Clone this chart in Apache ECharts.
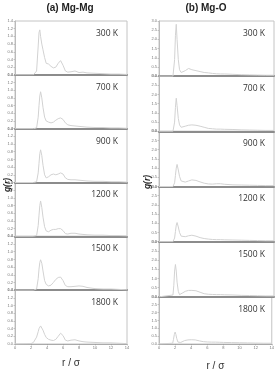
<!DOCTYPE html>
<html><head><meta charset="utf-8">
<script src="https://cdn.jsdelivr.net/npm/echarts@6/dist/echarts.min.js"></script>
<style>html,body{margin:0;padding:0;background:#fff}#c{width:277px;height:372px}</style>
</head><body><div id="c"></div>
<script>
// ---------- data ----------
const temps = ['300 K', '700 K', '900 K', '1200 K', '1500 K', '1800 K'];
const xTicks = [0, 2, 4, 6, 8, 10, 12, 14];

// (a) Mg-Mg
const rMgMg   = [0, 2.0, 2.3, 2.5, 2.7, 2.9, 3.0, 3.1, 3.2, 3.35, 3.5, 3.7, 3.9, 4.2, 4.5, 4.8, 5.1, 5.4, 5.7, 6.0, 6.3, 6.6, 7.0, 7.5, 8.0, 8.5, 9.0, 10, 11, 12, 13, 14];
const mgmg300  = [0, 0, 0, 0, 0.1, 0.75, 1.1, 1.17, 1.0, 0.8, 0.65, 0.45, 0.3, 0.28, 0.22, 0.18, 0.2, 0.3, 0.37, 0.25, 0.1, 0.07, 0.08, 0.1, 0.06, 0.07, 0.05, 0.04, 0.03, 0.02, 0.02, 0.01];
const mgmg700  = [0, 0, 0, 0, 0.02, 0.3, 0.6, 0.85, 0.96, 0.8, 0.55, 0.3, 0.2, 0.17, 0.15, 0.17, 0.22, 0.26, 0.28, 0.24, 0.15, 0.1, 0.08, 0.07, 0.06, 0.05, 0.04, 0.03, 0.03, 0.02, 0.02, 0.01];
const mgmg900  = [0, 0, 0, 0, 0.02, 0.25, 0.5, 0.75, 0.85, 0.7, 0.45, 0.2, 0.12, 0.15, 0.2, 0.22, 0.2, 0.22, 0.25, 0.22, 0.12, 0.08, 0.07, 0.07, 0.06, 0.05, 0.04, 0.03, 0.03, 0.02, 0.02, 0.01];
const mgmg1200 = [0, 0, 0, 0, 0.02, 0.28, 0.55, 0.8, 0.92, 0.75, 0.5, 0.25, 0.14, 0.12, 0.16, 0.18, 0.18, 0.2, 0.2, 0.15, 0.07, 0.06, 0.08, 0.08, 0.06, 0.05, 0.04, 0.03, 0.03, 0.02, 0.02, 0.01];
const mgmg1500 = [0, 0, 0, 0, 0.03, 0.3, 0.55, 0.72, 0.79, 0.7, 0.5, 0.25, 0.15, 0.11, 0.13, 0.2, 0.28, 0.33, 0.34, 0.25, 0.12, 0.09, 0.09, 0.1, 0.11, 0.1, 0.07, 0.04, 0.03, 0.03, 0.02, 0.01];
const mgmg1800 = [0, 0.01, 0.04, 0.08, 0.18, 0.32, 0.4, 0.45, 0.47, 0.44, 0.36, 0.25, 0.17, 0.12, 0.1, 0.09, 0.12, 0.2, 0.28, 0.22, 0.1, 0.08, 0.1, 0.11, 0.08, 0.06, 0.05, 0.04, 0.03, 0.03, 0.02, 0.01];

// (b) Mg-O
const rMgO    = [0, 1.7, 1.8, 1.9, 2.0, 2.1, 2.2, 2.35, 2.5, 2.7, 2.9, 3.2, 3.6, 4.0, 4.5, 5.0, 5.5, 6.0, 6.5, 7.0, 7.5, 8.0, 9.0, 10, 11, 12, 13, 14];
const mgo300  = [0, 0, 0.1, 0.9, 2.2, 2.82, 2.0, 0.9, 0.35, 0.2, 0.22, 0.3, 0.42, 0.35, 0.3, 0.25, 0.2, 0.18, 0.15, 0.13, 0.12, 0.12, 0.1, 0.08, 0.07, 0.06, 0.05, 0.05];
const mgo700  = [0, 0, 0.05, 0.5, 1.3, 1.8, 1.4, 0.7, 0.35, 0.22, 0.22, 0.28, 0.33, 0.35, 0.33, 0.28, 0.22, 0.16, 0.14, 0.12, 0.12, 0.11, 0.1, 0.08, 0.07, 0.06, 0.05, 0.05];
const mgo900  = [0, 0, 0.02, 0.2, 0.6, 1.0, 1.2, 0.9, 0.55, 0.3, 0.22, 0.24, 0.3, 0.36, 0.33, 0.25, 0.18, 0.14, 0.13, 0.15, 0.15, 0.12, 0.09, 0.08, 0.07, 0.06, 0.05, 0.05];
const mgo1200 = [0, 0, 0.02, 0.2, 0.55, 0.9, 1.04, 0.8, 0.5, 0.3, 0.25, 0.27, 0.32, 0.35, 0.3, 0.22, 0.17, 0.14, 0.12, 0.11, 0.11, 0.1, 0.09, 0.08, 0.07, 0.06, 0.05, 0.05];
const mgo1500 = [0, 0.1, 0.6, 1.4, 1.76, 1.4, 0.8, 0.3, 0.12, 0.15, 0.22, 0.3, 0.35, 0.35, 0.33, 0.25, 0.17, 0.14, 0.13, 0.12, 0.12, 0.11, 0.1, 0.08, 0.07, 0.06, 0.05, 0.05];
const mgo1800 = [0, 0.05, 0.3, 0.6, 0.76, 0.6, 0.35, 0.12, 0.06, 0.1, 0.17, 0.22, 0.26, 0.27, 0.26, 0.2, 0.15, 0.13, 0.12, 0.12, 0.11, 0.1, 0.09, 0.08, 0.07, 0.06, 0.05, 0.05];

// ---------- layout ----------
const columns = [
  { r: rMgMg, sets: [mgmg300, mgmg700, mgmg900, mgmg1200, mgmg1500, mgmg1800], yMax: 1.4, yInt: 0.2,
    left: 15, right: 127, top: 21, bottom: 344, title: '(a) Mg-Mg', titleX: 70, gX: 4, gY: 185, nameGap: 14 },
  { r: rMgO, sets: [mgo300, mgo700, mgo900, mgo1200, mgo1500, mgo1800], yMax: 3.0, yInt: 0.5,
    left: 159, right: 274, top: 21, bottom: 352, title: '(b) Mg-O', titleX: 206, gX: 144, gY: 182, nameGap: 17 }
];
const W = 277;
const grid = [], xAxis = [], yAxis = [], series = [], title = [], graphic = [];
let gi = 0;
columns.forEach(col => {
  const h = (col.bottom - col.top) / 6;
  col.sets.forEach((vals, i) => {
    const top = col.top + i * h;
    const last = i === 5;
    grid.push({ left: col.left, width: col.right - col.left, top: top, height: h,
      show: true, borderColor: '#c4c4c4', borderWidth: 1, containLabel: false });
    xAxis.push({ type: 'value', gridIndex: gi, min: 0, max: 14, interval: 2,
      axisLine: { show: true, onZero: false, lineStyle: { color: last ? '#aaa' : '#8c8c8c', width: last ? 1 : 2 } },
      axisTick: { show: last, length: 1.5, lineStyle: { color: '#999', width: 0.5 } },
      axisLabel: { show: last, fontSize: 4, color: '#777', margin: 2, fontFamily: 'Liberation Sans' },
      splitLine: { show: false },
      name: last ? 'r / σ' : '', nameLocation: 'middle', nameGap: col.nameGap,
      nameTextStyle: { fontSize: 10, color: '#333', fontFamily: 'Liberation Sans' } });
    yAxis.push({ type: 'value', gridIndex: gi, min: 0, max: col.yMax, interval: col.yInt,
      axisLine: { show: true, lineStyle: { color: '#bbb', width: 1 } },
      axisTick: { show: true, length: 1.5, lineStyle: { color: '#999', width: 0.5 } },
      axisLabel: { fontSize: 4, color: '#777', margin: 2, fontFamily: 'Liberation Sans', formatter: v => v.toFixed(1) },
      splitLine: { show: false } });
    series.push({ type: 'line', xAxisIndex: gi, yAxisIndex: gi, showSymbol: false, silent: true,
      data: col.r.map((x, k) => [x, vals[k]]),
      lineStyle: { color: '#d2d2d2', width: 1 } });
    title.push({ text: temps[i], right: W - col.right + 4, top: top + 3,
      textStyle: { fontSize: 8.5, fontWeight: 'normal', color: '#333', fontFamily: 'Open Sans' } });
    gi++;
  });
  graphic.push({ type: 'text', x: col.titleX, y: 8,
    style: { text: col.title, align: 'center', verticalAlign: 'middle', fontSize: 10, fontWeight: 'bold',
      fill: '#222', fontFamily: 'Liberation Sans' } });
  graphic.push({ type: 'text', x: col.gX + 4, y: col.gY, rotation: Math.PI / 2,
    style: { text: 'g(r)', align: 'center', verticalAlign: 'middle', fontSize: 8.5, fontWeight: 'bold',
      fontStyle: 'italic', fill: '#222', fontFamily: 'Liberation Sans' } });
});

const chart = echarts.init(document.getElementById('c'), null, { renderer: 'canvas' });
chart.setOption({ backgroundColor: '#fff', animation: false, grid, xAxis, yAxis, series, title, graphic });
</script></body></html>
